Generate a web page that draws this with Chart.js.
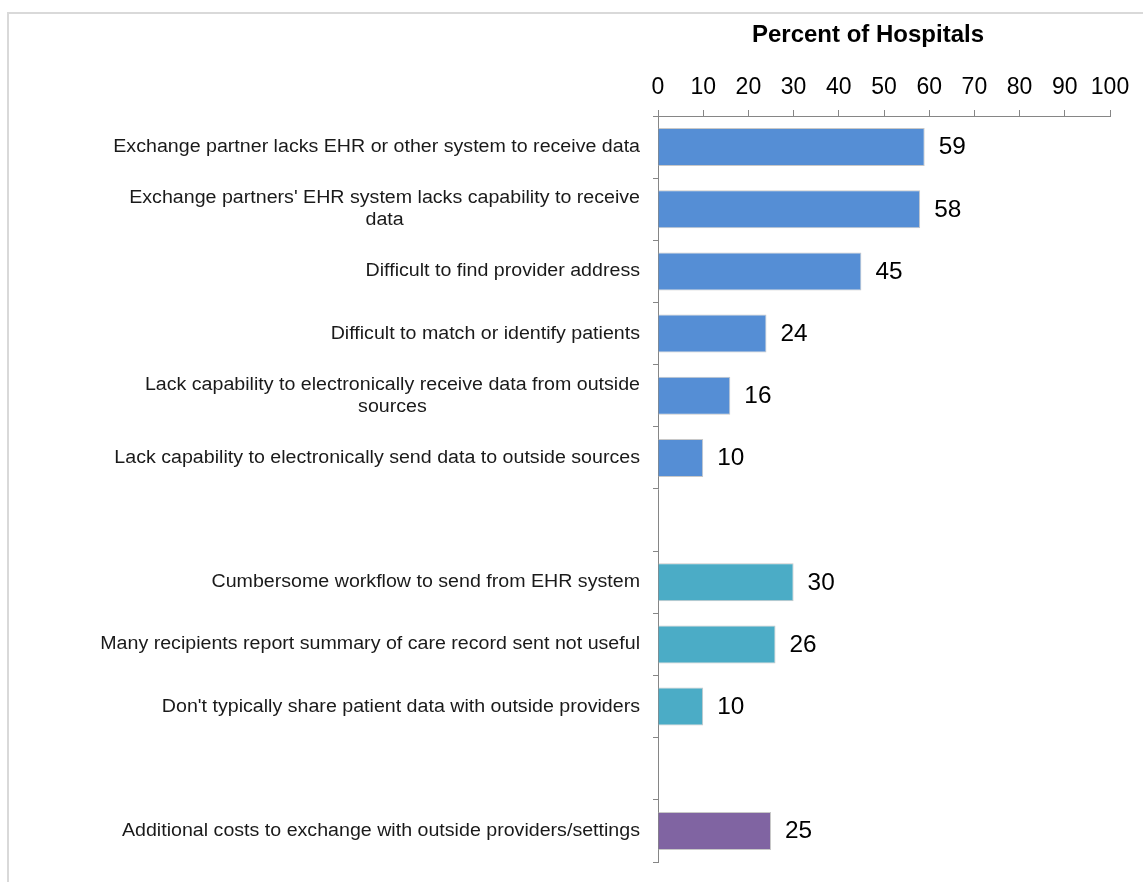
<!DOCTYPE html>
<html>
<head>
<meta charset="utf-8">
<script src="https://cdn.jsdelivr.net/npm/chart.js@4"></script>
<style>
html,body{margin:0;padding:0;background:#fff;}
#wrap{width:1143px;height:882px;}
</style>
</head>
<body>
<div id="wrap"><canvas id="c" width="1143" height="882"></canvas></div>
<script>
// ---- data ----
const categories = [
  "Exchange partner lacks EHR or other system to receive data",
  ["Exchange partners' EHR system lacks capability to receive", "data"],
  "Difficult to find provider address",
  "Difficult to match or identify patients",
  ["Lack capability to electronically receive data from outside", "sources"],
  "Lack capability to electronically send data to outside sources",
  "",
  "Cumbersome workflow to send from EHR system",
  "Many recipients report summary of care record sent not useful",
  "Don't typically share patient data with outside providers",
  "",
  "Additional costs to exchange with outside providers/settings"
];
const values = [59, 58, 45, 24, 16, 10, null, 30, 26, 10, null, 25];
const groups = ["A", "A", "A", "A", "A", "A", null, "B", "B", "B", null, "C"];
const xTicks = [0, 10, 20, 30, 40, 50, 60, 70, 80, 90, 100];
const axisTitle = "Percent of Hospitals";

// ---- styles ----
const groupColors = { A: "#558ED5", B: "#4BACC6", C: "#8064A2" };
const FONT = "'Liberation Sans', Arial, sans-serif";
const AXIS_LEFT = 658, AXIS_TOP = 116, AXIS_RIGHT = 1110, AXIS_BOTTOM = 862;

function stretchedText(ctx, text, x, y, sx, align) {
  // draws text with horizontal stretch sx; x is anchor according to align
  ctx.save();
  ctx.translate(x, y);
  ctx.scale(sx, 1);
  ctx.textAlign = align;
  ctx.fillText(text, 0, 0);
  ctx.restore();
}

const framePlugin = {
  id: 'frame',
  beforeDraw(chart) {
    const ctx = chart.ctx;
    ctx.save();
    ctx.strokeStyle = '#d9d9d9';
    ctx.lineWidth = 2;
    ctx.beginPath();
    ctx.moveTo(8, 900);
    ctx.lineTo(8, 13);
    ctx.lineTo(1150, 13);
    ctx.stroke();
    ctx.restore();
  }
};

const labelPlugin = {
  id: 'labels',
  afterDraw(chart) {
    const ctx = chart.ctx;
    const y = chart.scales.y;
    ctx.save();
    // title
    ctx.font = "bold 24px " + FONT;
    ctx.fillStyle = '#000';
    ctx.textBaseline = 'middle';
    ctx.textAlign = 'center';
    ctx.fillText(axisTitle, 868, 35);

    // category labels
    const SX = 1.09;
    ctx.font = "18px " + FONT;
    ctx.fillStyle = '#1a1a1a';
    ctx.textBaseline = 'middle';
    const lh = 22;
    const rightX = 640;
    categories.forEach((lab, i) => {
      const lines = Array.isArray(lab) ? lab : [lab];
      if (!lines[0]) return;
      const cy = y.getPixelForValue(i);
      const maxW = Math.max(...lines.map(l => ctx.measureText(l).width)) * SX;
      const cx = rightX - maxW / 2;
      lines.forEach((l, k) => {
        const ly = cy + (k - (lines.length - 1) / 2) * lh;
        stretchedText(ctx, l, cx, ly, SX, 'center');
      });
    });
    // value labels
    ctx.font = "23px " + FONT;
    ctx.fillStyle = '#000';
    const meta = chart.getDatasetMeta(0);
    meta.data.forEach((bar, i) => {
      if (values[i] == null) return;
      stretchedText(ctx, String(values[i]), bar.x + 14, bar.y + 1, 1.06, 'left');
    });
    ctx.restore();
  }
};

new Chart(document.getElementById('c'), {
  type: 'bar',
  data: {
    labels: categories,
    datasets: [{
      data: values,
      backgroundColor: groups.map(g => g ? groupColors[g] : 'transparent'),
      borderColor: '#c8c8c8',
      borderWidth: 1,
      borderSkipped: 'start',
      barPercentage: 0.61,
      categoryPercentage: 1.0
    }]
  },
  options: {
    indexAxis: 'y',
    responsive: false,
    animation: false,
    layout: { padding: { left: 0, top: 0, right: 1143 - AXIS_RIGHT, bottom: 882 - AXIS_BOTTOM } },
    plugins: { legend: { display: false }, tooltip: { enabled: false } },
    scales: {
      x: {
        position: 'top',
        min: 0, max: 100,
        afterBuildTicks(scale) { scale.ticks = xTicks.map(v => ({ value: v })); },
        afterFit(scale) { scale.height = AXIS_TOP; },
        ticks: { color: '#000', font: { family: FONT, size: 23 }, padding: 9, maxRotation: 0, autoSkip: false },
        grid: { drawOnChartArea: false, drawTicks: true, tickLength: 6, color: '#868686', lineWidth: 1 },
        border: { color: '#868686', width: 1 },
        title: { display: false }
      },
      y: {
        afterFit(scale) { scale.width = AXIS_LEFT; },
        ticks: { callback: () => '', autoSkip: false },
        grid: { drawOnChartArea: false, drawTicks: true, tickLength: 5, color: '#868686', lineWidth: 1, offset: true },
        border: { color: '#868686', width: 1 }
      }
    }
  },
  plugins: [framePlugin, labelPlugin]
});
</script>
</body>
</html>
